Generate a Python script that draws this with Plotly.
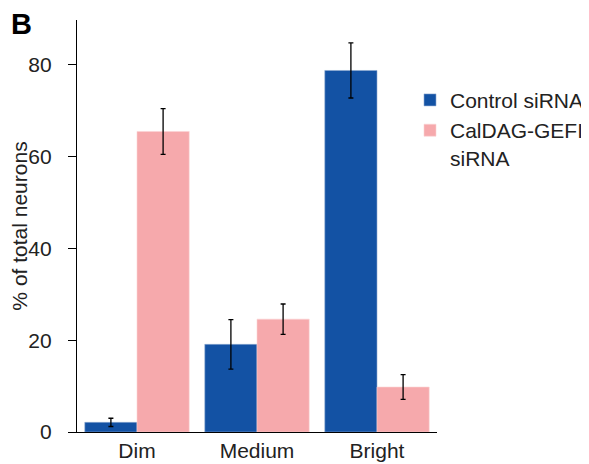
import plotly.graph_objects as go

categories = ["Dim", "Medium", "Bright"]
control_values = [2.1, 19.1, 78.8]
control_errors = [0.9, 5.4, 6.0]
caldag_values = [65.5, 24.6, 9.8]
caldag_errors = [5.0, 3.3, 2.7]
series_names = ["Control siRNA", "CalDAG-GEFI<br>siRNA"]
y_ticks = [0, 20, 40, 60, 80]

FONT = "Liberation Sans, Arial, Helvetica, sans-serif"
BLUE = "#1352A4"
PINK = "#F6A9AC"
TXT = "#222222"

fig = go.Figure()
fig.add_trace(go.Bar(
    x=categories, y=control_values, name=series_names[0],
    marker=dict(color=BLUE, line=dict(color="#8FA9D2", width=0.6)),
    error_y=dict(type="data", array=control_errors, color="black", thickness=1.3, width=2.5),
))
fig.add_trace(go.Bar(
    x=categories, y=caldag_values, name=series_names[1],
    marker=dict(color=PINK, line=dict(color="#FBD3D5", width=0.6)),
    error_y=dict(type="data", array=caldag_errors, color="black", thickness=1.3, width=2.5),
))

# page body has an 8px default margin; figure is sized/offset to compensate
fig.update_layout(
    width=581, height=456,
    margin=dict(l=69, r=152, t=12, b=32, autoexpand=False),
    paper_bgcolor="white", plot_bgcolor="white",
    barmode="group", bargap=0.13, bargroupgap=0,
    font=dict(family=FONT, size=21, color=TXT),
    showlegend=True,
    legend=dict(x=0.925, y=0.855, xanchor="left", yanchor="top", valign="top",
                font=dict(family=FONT, size=21, color=TXT),
                bgcolor="rgba(0,0,0,0)", tracegroupgap=0),
    xaxis=dict(range=[-0.5, 2.5], showline=True, linecolor="black", linewidth=1.3,
               ticks="", showgrid=False, zeroline=False, automargin=False,
               tickfont=dict(family=FONT, size=21, color=TXT)),
    yaxis=dict(range=[0, 89.8], tickvals=y_ticks, showline=True, linecolor="black",
               linewidth=1.3, ticks="outside", ticklen=8, tickcolor="black", tickwidth=1,
               showgrid=False, zeroline=False, ticklabelstandoff=12, automargin=False,
               tickfont=dict(family=FONT, size=21, color=TXT),
               title=dict(text="% of total neurons", standoff=2,
                          font=dict(family=FONT, size=21, color=TXT))),
    annotations=[dict(text="<b>B</b>", xref="paper", yref="paper",
                      x=-0.19, y=1.035, xanchor="left", yanchor="top", showarrow=False,
                      font=dict(family=FONT, size=29, color="black"))],
)

fig.write_html("out.html")
